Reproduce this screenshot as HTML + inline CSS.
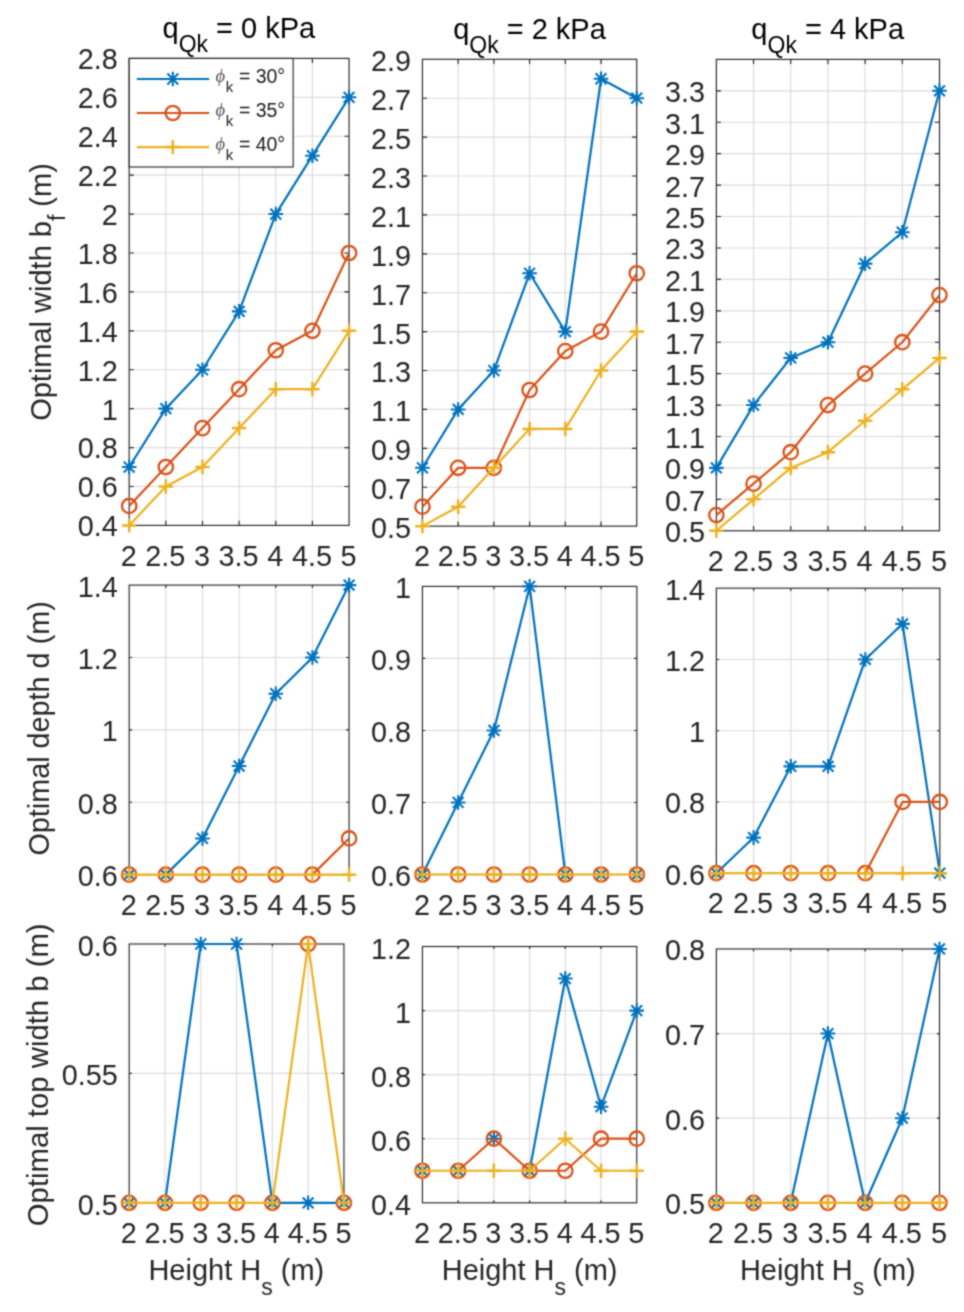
<!DOCTYPE html>
<html lang="en"><head><meta charset="utf-8"><title>Optimal dimensions</title>
<style>
html,body{margin:0;padding:0;background:#fff;}
body{width:964px;height:1312px;overflow:hidden;}
svg{display:block;font-family:"Liberation Sans",Arial,Helvetica,sans-serif;}
</style></head><body>
<svg width="964" height="1312" viewBox="0 0 964 1312">
<defs><filter id="soft" x="0" y="0" width="964" height="1312" filterUnits="userSpaceOnUse" color-interpolation-filters="sRGB"><feConvolveMatrix order="3" kernelMatrix="0.0400 0.1200 0.0400 0.1200 0.3600 0.1200 0.0400 0.1200 0.0400" divisor="1" edgeMode="duplicate" preserveAlpha="true"/></filter></defs>
<g filter="url(#soft)">
<rect width="964" height="1312" fill="#fff"/>
<g>
<path d="M165.82 58.40V525.40M202.47 58.40V525.40M239.12 58.40V525.40M275.77 58.40V525.40M312.42 58.40V525.40M129.17 486.48H349.07M129.17 447.57H349.07M129.17 408.65H349.07M129.17 369.73H349.07M129.17 330.82H349.07M129.17 291.90H349.07M129.17 252.98H349.07M129.17 214.07H349.07M129.17 175.15H349.07M129.17 136.23H349.07M129.17 97.32H349.07" stroke="#dbdbdb" stroke-width="1.15" fill="none"/>
<rect x="129.17" y="58.40" width="219.90" height="467.00" fill="none" stroke="#262626" stroke-width="1.15"/>
<path d="M165.82 525.40v-4.67M165.82 58.40v4.67M202.47 525.40v-4.67M202.47 58.40v4.67M239.12 525.40v-4.67M239.12 58.40v4.67M275.77 525.40v-4.67M275.77 58.40v4.67M312.42 525.40v-4.67M312.42 58.40v4.67M129.17 486.48h4.67M349.07 486.48h-4.67M129.17 447.57h4.67M349.07 447.57h-4.67M129.17 408.65h4.67M349.07 408.65h-4.67M129.17 369.73h4.67M349.07 369.73h-4.67M129.17 330.82h4.67M349.07 330.82h-4.67M129.17 291.90h4.67M349.07 291.90h-4.67M129.17 252.98h4.67M349.07 252.98h-4.67M129.17 214.07h4.67M349.07 214.07h-4.67M129.17 175.15h4.67M349.07 175.15h-4.67M129.17 136.23h4.67M349.07 136.23h-4.67M129.17 97.32h4.67M349.07 97.32h-4.67" stroke="#262626" stroke-width="1.15" fill="none"/>
<g font-size="28.8" fill="#262626">
<text transform="translate(128.67 565.70) scale(1 1.03)" text-anchor="middle">2</text>
<text transform="translate(165.32 565.70) scale(1 1.03)" text-anchor="middle">2.5</text>
<text transform="translate(201.97 565.70) scale(1 1.03)" text-anchor="middle">3</text>
<text transform="translate(238.62 565.70) scale(1 1.03)" text-anchor="middle">3.5</text>
<text transform="translate(275.27 565.70) scale(1 1.03)" text-anchor="middle">4</text>
<text transform="translate(311.92 565.70) scale(1 1.03)" text-anchor="middle">4.5</text>
<text transform="translate(348.57 565.70) scale(1 1.03)" text-anchor="middle">5</text>
<text transform="translate(117.77 536.30) scale(1 1.03)" text-anchor="end">0.4</text>
<text transform="translate(117.77 497.38) scale(1 1.03)" text-anchor="end">0.6</text>
<text transform="translate(117.77 458.47) scale(1 1.03)" text-anchor="end">0.8</text>
<text transform="translate(117.77 419.55) scale(1 1.03)" text-anchor="end">1</text>
<text transform="translate(117.77 380.63) scale(1 1.03)" text-anchor="end">1.2</text>
<text transform="translate(117.77 341.72) scale(1 1.03)" text-anchor="end">1.4</text>
<text transform="translate(117.77 302.80) scale(1 1.03)" text-anchor="end">1.6</text>
<text transform="translate(117.77 263.88) scale(1 1.03)" text-anchor="end">1.8</text>
<text transform="translate(117.77 224.97) scale(1 1.03)" text-anchor="end">2</text>
<text transform="translate(117.77 186.05) scale(1 1.03)" text-anchor="end">2.2</text>
<text transform="translate(117.77 147.13) scale(1 1.03)" text-anchor="end">2.4</text>
<text transform="translate(117.77 108.22) scale(1 1.03)" text-anchor="end">2.6</text>
<text transform="translate(117.77 69.30) scale(1 1.03)" text-anchor="end">2.8</text>
</g>
<path d="M129.17 467.02L165.82 408.65L202.47 369.73L239.12 311.36L275.77 214.07L312.42 155.69L349.07 97.32" fill="none" stroke="#0072BD" stroke-width="2.2" stroke-linejoin="round" stroke-linecap="butt"/>
<path d="M121.87 467.02H136.47M129.17 459.72V474.32M123.77 461.62L134.57 472.42M123.77 472.42L134.57 461.62" stroke="#0072BD" stroke-width="2.1" fill="none"/>
<path d="M158.52 408.65H173.12M165.82 401.35V415.95M160.42 403.25L171.22 414.05M160.42 414.05L171.22 403.25" stroke="#0072BD" stroke-width="2.1" fill="none"/>
<path d="M195.17 369.73H209.77M202.47 362.43V377.03M197.07 364.33L207.87 375.13M197.07 375.13L207.87 364.33" stroke="#0072BD" stroke-width="2.1" fill="none"/>
<path d="M231.82 311.36H246.42M239.12 304.06V318.66M233.72 305.96L244.52 316.76M233.72 316.76L244.52 305.96" stroke="#0072BD" stroke-width="2.1" fill="none"/>
<path d="M268.47 214.07H283.07M275.77 206.77V221.37M270.37 208.67L281.17 219.47M270.37 219.47L281.17 208.67" stroke="#0072BD" stroke-width="2.1" fill="none"/>
<path d="M305.12 155.69H319.72M312.42 148.39V162.99M307.02 150.29L317.82 161.09M307.02 161.09L317.82 150.29" stroke="#0072BD" stroke-width="2.1" fill="none"/>
<path d="M341.77 97.32H356.37M349.07 90.02V104.62M343.67 91.92L354.47 102.72M343.67 102.72L354.47 91.92" stroke="#0072BD" stroke-width="2.1" fill="none"/>
<path d="M129.17 505.94L165.82 467.02L202.47 428.11L239.12 389.19L275.77 350.27L312.42 330.82L349.07 252.98" fill="none" stroke="#D95319" stroke-width="2.2" stroke-linejoin="round" stroke-linecap="butt"/>
<circle cx="129.17" cy="505.94" r="7.2" stroke="#D95319" stroke-width="2.3" fill="none"/>
<circle cx="165.82" cy="467.02" r="7.2" stroke="#D95319" stroke-width="2.3" fill="none"/>
<circle cx="202.47" cy="428.11" r="7.2" stroke="#D95319" stroke-width="2.3" fill="none"/>
<circle cx="239.12" cy="389.19" r="7.2" stroke="#D95319" stroke-width="2.3" fill="none"/>
<circle cx="275.77" cy="350.27" r="7.2" stroke="#D95319" stroke-width="2.3" fill="none"/>
<circle cx="312.42" cy="330.82" r="7.2" stroke="#D95319" stroke-width="2.3" fill="none"/>
<circle cx="349.07" cy="252.98" r="7.2" stroke="#D95319" stroke-width="2.3" fill="none"/>
<path d="M129.17 525.40L165.82 486.48L202.47 467.02L239.12 428.11L275.77 389.19L312.42 389.19L349.07 330.82" fill="none" stroke="#EDB120" stroke-width="2.2" stroke-linejoin="round" stroke-linecap="butt"/>
<path d="M121.97 525.40H136.37M129.17 518.20V532.60" stroke="#EDB120" stroke-width="2.5" fill="none"/>
<path d="M158.62 486.48H173.02M165.82 479.28V493.68" stroke="#EDB120" stroke-width="2.5" fill="none"/>
<path d="M195.27 467.02H209.67M202.47 459.82V474.22" stroke="#EDB120" stroke-width="2.5" fill="none"/>
<path d="M231.92 428.11H246.32M239.12 420.91V435.31" stroke="#EDB120" stroke-width="2.5" fill="none"/>
<path d="M268.57 389.19H282.97M275.77 381.99V396.39" stroke="#EDB120" stroke-width="2.5" fill="none"/>
<path d="M305.22 389.19H319.62M312.42 381.99V396.39" stroke="#EDB120" stroke-width="2.5" fill="none"/>
<path d="M341.87 330.82H356.27M349.07 323.62V338.02" stroke="#EDB120" stroke-width="2.5" fill="none"/>
</g>
<g>
<path d="M458.15 59.30V526.14M493.87 59.30V526.14M529.59 59.30V526.14M565.30 59.30V526.14M601.02 59.30V526.14M422.43 487.24H636.74M422.43 448.33H636.74M422.43 409.43H636.74M422.43 370.53H636.74M422.43 331.62H636.74M422.43 292.72H636.74M422.43 253.82H636.74M422.43 214.91H636.74M422.43 176.01H636.74M422.43 137.11H636.74M422.43 98.20H636.74" stroke="#dbdbdb" stroke-width="1.15" fill="none"/>
<rect x="422.43" y="59.30" width="214.31" height="466.84" fill="none" stroke="#262626" stroke-width="1.15"/>
<path d="M458.15 526.14v-4.67M458.15 59.30v4.67M493.87 526.14v-4.67M493.87 59.30v4.67M529.59 526.14v-4.67M529.59 59.30v4.67M565.30 526.14v-4.67M565.30 59.30v4.67M601.02 526.14v-4.67M601.02 59.30v4.67M422.43 487.24h4.67M636.74 487.24h-4.67M422.43 448.33h4.67M636.74 448.33h-4.67M422.43 409.43h4.67M636.74 409.43h-4.67M422.43 370.53h4.67M636.74 370.53h-4.67M422.43 331.62h4.67M636.74 331.62h-4.67M422.43 292.72h4.67M636.74 292.72h-4.67M422.43 253.82h4.67M636.74 253.82h-4.67M422.43 214.91h4.67M636.74 214.91h-4.67M422.43 176.01h4.67M636.74 176.01h-4.67M422.43 137.11h4.67M636.74 137.11h-4.67M422.43 98.20h4.67M636.74 98.20h-4.67" stroke="#262626" stroke-width="1.15" fill="none"/>
<g font-size="28.8" fill="#262626">
<text transform="translate(421.93 565.70) scale(1 1.03)" text-anchor="middle">2</text>
<text transform="translate(457.65 565.70) scale(1 1.03)" text-anchor="middle">2.5</text>
<text transform="translate(493.37 565.70) scale(1 1.03)" text-anchor="middle">3</text>
<text transform="translate(529.09 565.70) scale(1 1.03)" text-anchor="middle">3.5</text>
<text transform="translate(564.80 565.70) scale(1 1.03)" text-anchor="middle">4</text>
<text transform="translate(600.52 565.70) scale(1 1.03)" text-anchor="middle">4.5</text>
<text transform="translate(636.24 565.70) scale(1 1.03)" text-anchor="middle">5</text>
<text transform="translate(411.03 538.04) scale(1 1.03)" text-anchor="end">0.5</text>
<text transform="translate(411.03 499.14) scale(1 1.03)" text-anchor="end">0.7</text>
<text transform="translate(411.03 460.23) scale(1 1.03)" text-anchor="end">0.9</text>
<text transform="translate(411.03 421.33) scale(1 1.03)" text-anchor="end">1.1</text>
<text transform="translate(411.03 382.43) scale(1 1.03)" text-anchor="end">1.3</text>
<text transform="translate(411.03 343.52) scale(1 1.03)" text-anchor="end">1.5</text>
<text transform="translate(411.03 304.62) scale(1 1.03)" text-anchor="end">1.7</text>
<text transform="translate(411.03 265.72) scale(1 1.03)" text-anchor="end">1.9</text>
<text transform="translate(411.03 226.81) scale(1 1.03)" text-anchor="end">2.1</text>
<text transform="translate(411.03 187.91) scale(1 1.03)" text-anchor="end">2.3</text>
<text transform="translate(411.03 149.01) scale(1 1.03)" text-anchor="end">2.5</text>
<text transform="translate(411.03 110.10) scale(1 1.03)" text-anchor="end">2.7</text>
<text transform="translate(411.03 71.20) scale(1 1.03)" text-anchor="end">2.9</text>
</g>
<path d="M422.43 467.78L458.15 409.43L493.87 370.53L529.59 273.27L565.30 331.62L601.02 78.75L636.74 98.20" fill="none" stroke="#0072BD" stroke-width="2.2" stroke-linejoin="round" stroke-linecap="butt"/>
<path d="M415.13 467.78H429.73M422.43 460.48V475.08M417.03 462.38L427.83 473.18M417.03 473.18L427.83 462.38" stroke="#0072BD" stroke-width="2.1" fill="none"/>
<path d="M450.85 409.43H465.45M458.15 402.13V416.73M452.75 404.03L463.55 414.83M452.75 414.83L463.55 404.03" stroke="#0072BD" stroke-width="2.1" fill="none"/>
<path d="M486.57 370.53H501.17M493.87 363.23V377.83M488.47 365.13L499.27 375.93M488.47 375.93L499.27 365.13" stroke="#0072BD" stroke-width="2.1" fill="none"/>
<path d="M522.29 273.27H536.88M529.59 265.97V280.57M524.19 267.87L534.99 278.67M524.19 278.67L534.99 267.87" stroke="#0072BD" stroke-width="2.1" fill="none"/>
<path d="M558.00 331.62H572.60M565.30 324.32V338.92M559.90 326.22L570.70 337.02M559.90 337.02L570.70 326.22" stroke="#0072BD" stroke-width="2.1" fill="none"/>
<path d="M593.72 78.75H608.32M601.02 71.45V86.05M595.62 73.35L606.42 84.15M595.62 84.15L606.42 73.35" stroke="#0072BD" stroke-width="2.1" fill="none"/>
<path d="M629.44 98.20H644.04M636.74 90.90V105.50M631.34 92.80L642.14 103.60M631.34 103.60L642.14 92.80" stroke="#0072BD" stroke-width="2.1" fill="none"/>
<path d="M422.43 506.69L458.15 467.78L493.87 467.78L529.59 389.98L565.30 351.07L601.02 331.62L636.74 273.27" fill="none" stroke="#D95319" stroke-width="2.2" stroke-linejoin="round" stroke-linecap="butt"/>
<circle cx="422.43" cy="506.69" r="7.2" stroke="#D95319" stroke-width="2.3" fill="none"/>
<circle cx="458.15" cy="467.78" r="7.2" stroke="#D95319" stroke-width="2.3" fill="none"/>
<circle cx="493.87" cy="467.78" r="7.2" stroke="#D95319" stroke-width="2.3" fill="none"/>
<circle cx="529.59" cy="389.98" r="7.2" stroke="#D95319" stroke-width="2.3" fill="none"/>
<circle cx="565.30" cy="351.07" r="7.2" stroke="#D95319" stroke-width="2.3" fill="none"/>
<circle cx="601.02" cy="331.62" r="7.2" stroke="#D95319" stroke-width="2.3" fill="none"/>
<circle cx="636.74" cy="273.27" r="7.2" stroke="#D95319" stroke-width="2.3" fill="none"/>
<path d="M422.43 526.14L458.15 506.69L493.87 467.78L529.59 428.88L565.30 428.88L601.02 370.53L636.74 331.62" fill="none" stroke="#EDB120" stroke-width="2.2" stroke-linejoin="round" stroke-linecap="butt"/>
<path d="M415.23 526.14H429.63M422.43 518.94V533.34" stroke="#EDB120" stroke-width="2.5" fill="none"/>
<path d="M450.95 506.69H465.35M458.15 499.49V513.89" stroke="#EDB120" stroke-width="2.5" fill="none"/>
<path d="M486.67 467.78H501.07M493.87 460.58V474.98" stroke="#EDB120" stroke-width="2.5" fill="none"/>
<path d="M522.38 428.88H536.79M529.59 421.68V436.08" stroke="#EDB120" stroke-width="2.5" fill="none"/>
<path d="M558.10 428.88H572.50M565.30 421.68V436.08" stroke="#EDB120" stroke-width="2.5" fill="none"/>
<path d="M593.82 370.53H608.22M601.02 363.33V377.73" stroke="#EDB120" stroke-width="2.5" fill="none"/>
<path d="M629.54 331.62H643.94M636.74 324.42V338.82" stroke="#EDB120" stroke-width="2.5" fill="none"/>
</g>
<g>
<path d="M753.54 59.40V530.77M790.73 59.40V530.77M827.92 59.40V530.77M865.12 59.40V530.77M902.31 59.40V530.77M716.35 499.35H939.50M716.35 467.92H939.50M716.35 436.50H939.50M716.35 405.07H939.50M716.35 373.65H939.50M716.35 342.22H939.50M716.35 310.80H939.50M716.35 279.37H939.50M716.35 247.95H939.50M716.35 216.52H939.50M716.35 185.10H939.50M716.35 153.67H939.50M716.35 122.25H939.50M716.35 90.82H939.50" stroke="#dbdbdb" stroke-width="1.15" fill="none"/>
<rect x="716.35" y="59.40" width="223.15" height="471.37" fill="none" stroke="#262626" stroke-width="1.15"/>
<path d="M753.54 530.77v-4.71M753.54 59.40v4.71M790.73 530.77v-4.71M790.73 59.40v4.71M827.92 530.77v-4.71M827.92 59.40v4.71M865.12 530.77v-4.71M865.12 59.40v4.71M902.31 530.77v-4.71M902.31 59.40v4.71M716.35 499.35h4.71M939.50 499.35h-4.71M716.35 467.92h4.71M939.50 467.92h-4.71M716.35 436.50h4.71M939.50 436.50h-4.71M716.35 405.07h4.71M939.50 405.07h-4.71M716.35 373.65h4.71M939.50 373.65h-4.71M716.35 342.22h4.71M939.50 342.22h-4.71M716.35 310.80h4.71M939.50 310.80h-4.71M716.35 279.37h4.71M939.50 279.37h-4.71M716.35 247.95h4.71M939.50 247.95h-4.71M716.35 216.52h4.71M939.50 216.52h-4.71M716.35 185.10h4.71M939.50 185.10h-4.71M716.35 153.67h4.71M939.50 153.67h-4.71M716.35 122.25h4.71M939.50 122.25h-4.71M716.35 90.82h4.71M939.50 90.82h-4.71" stroke="#262626" stroke-width="1.15" fill="none"/>
<g font-size="28.8" fill="#262626">
<text transform="translate(715.85 570.90) scale(1 1.03)" text-anchor="middle">2</text>
<text transform="translate(753.04 570.90) scale(1 1.03)" text-anchor="middle">2.5</text>
<text transform="translate(790.23 570.90) scale(1 1.03)" text-anchor="middle">3</text>
<text transform="translate(827.42 570.90) scale(1 1.03)" text-anchor="middle">3.5</text>
<text transform="translate(864.62 570.90) scale(1 1.03)" text-anchor="middle">4</text>
<text transform="translate(901.81 570.90) scale(1 1.03)" text-anchor="middle">4.5</text>
<text transform="translate(939.00 570.90) scale(1 1.03)" text-anchor="middle">5</text>
<text transform="translate(704.95 542.17) scale(1 1.03)" text-anchor="end">0.5</text>
<text transform="translate(704.95 510.75) scale(1 1.03)" text-anchor="end">0.7</text>
<text transform="translate(704.95 479.32) scale(1 1.03)" text-anchor="end">0.9</text>
<text transform="translate(704.95 447.90) scale(1 1.03)" text-anchor="end">1.1</text>
<text transform="translate(704.95 416.47) scale(1 1.03)" text-anchor="end">1.3</text>
<text transform="translate(704.95 385.05) scale(1 1.03)" text-anchor="end">1.5</text>
<text transform="translate(704.95 353.62) scale(1 1.03)" text-anchor="end">1.7</text>
<text transform="translate(704.95 322.20) scale(1 1.03)" text-anchor="end">1.9</text>
<text transform="translate(704.95 290.77) scale(1 1.03)" text-anchor="end">2.1</text>
<text transform="translate(704.95 259.35) scale(1 1.03)" text-anchor="end">2.3</text>
<text transform="translate(704.95 227.92) scale(1 1.03)" text-anchor="end">2.5</text>
<text transform="translate(704.95 196.50) scale(1 1.03)" text-anchor="end">2.7</text>
<text transform="translate(704.95 165.07) scale(1 1.03)" text-anchor="end">2.9</text>
<text transform="translate(704.95 133.65) scale(1 1.03)" text-anchor="end">3.1</text>
<text transform="translate(704.95 102.22) scale(1 1.03)" text-anchor="end">3.3</text>
</g>
<path d="M716.35 467.92L753.54 405.07L790.73 357.93L827.92 342.22L865.12 263.66L902.31 232.24L939.50 90.82" fill="none" stroke="#0072BD" stroke-width="2.2" stroke-linejoin="round" stroke-linecap="butt"/>
<path d="M709.05 467.92H723.65M716.35 460.62V475.22M710.95 462.52L721.75 473.32M710.95 473.32L721.75 462.52" stroke="#0072BD" stroke-width="2.1" fill="none"/>
<path d="M746.24 405.07H760.84M753.54 397.77V412.37M748.14 399.67L758.94 410.47M748.14 410.47L758.94 399.67" stroke="#0072BD" stroke-width="2.1" fill="none"/>
<path d="M783.43 357.93H798.03M790.73 350.63V365.23M785.33 352.53L796.13 363.33M785.33 363.33L796.13 352.53" stroke="#0072BD" stroke-width="2.1" fill="none"/>
<path d="M820.62 342.22H835.22M827.92 334.92V349.52M822.52 336.82L833.32 347.62M822.52 347.62L833.32 336.82" stroke="#0072BD" stroke-width="2.1" fill="none"/>
<path d="M857.82 263.66H872.42M865.12 256.36V270.96M859.72 258.26L870.52 269.06M859.72 269.06L870.52 258.26" stroke="#0072BD" stroke-width="2.1" fill="none"/>
<path d="M895.01 232.24H909.61M902.31 224.94V239.54M896.91 226.84L907.71 237.64M896.91 237.64L907.71 226.84" stroke="#0072BD" stroke-width="2.1" fill="none"/>
<path d="M932.20 90.82H946.80M939.50 83.52V98.12M934.10 85.42L944.90 96.22M934.10 96.22L944.90 85.42" stroke="#0072BD" stroke-width="2.1" fill="none"/>
<path d="M716.35 515.06L753.54 483.63L790.73 452.21L827.92 405.07L865.12 373.65L902.31 342.22L939.50 295.08" fill="none" stroke="#D95319" stroke-width="2.2" stroke-linejoin="round" stroke-linecap="butt"/>
<circle cx="716.35" cy="515.06" r="7.2" stroke="#D95319" stroke-width="2.3" fill="none"/>
<circle cx="753.54" cy="483.63" r="7.2" stroke="#D95319" stroke-width="2.3" fill="none"/>
<circle cx="790.73" cy="452.21" r="7.2" stroke="#D95319" stroke-width="2.3" fill="none"/>
<circle cx="827.92" cy="405.07" r="7.2" stroke="#D95319" stroke-width="2.3" fill="none"/>
<circle cx="865.12" cy="373.65" r="7.2" stroke="#D95319" stroke-width="2.3" fill="none"/>
<circle cx="902.31" cy="342.22" r="7.2" stroke="#D95319" stroke-width="2.3" fill="none"/>
<circle cx="939.50" cy="295.08" r="7.2" stroke="#D95319" stroke-width="2.3" fill="none"/>
<path d="M716.35 530.77L753.54 499.35L790.73 467.92L827.92 452.21L865.12 420.78L902.31 389.36L939.50 357.93" fill="none" stroke="#EDB120" stroke-width="2.2" stroke-linejoin="round" stroke-linecap="butt"/>
<path d="M709.15 530.77H723.55M716.35 523.57V537.97" stroke="#EDB120" stroke-width="2.5" fill="none"/>
<path d="M746.34 499.35H760.74M753.54 492.15V506.55" stroke="#EDB120" stroke-width="2.5" fill="none"/>
<path d="M783.53 467.92H797.93M790.73 460.72V475.12" stroke="#EDB120" stroke-width="2.5" fill="none"/>
<path d="M820.72 452.21H835.12M827.92 445.01V459.41" stroke="#EDB120" stroke-width="2.5" fill="none"/>
<path d="M857.92 420.78H872.32M865.12 413.58V427.98" stroke="#EDB120" stroke-width="2.5" fill="none"/>
<path d="M895.11 389.36H909.51M902.31 382.16V396.56" stroke="#EDB120" stroke-width="2.5" fill="none"/>
<path d="M932.30 357.93H946.70M939.50 350.73V365.13" stroke="#EDB120" stroke-width="2.5" fill="none"/>
</g>
<g>
<path d="M165.82 585.10V874.65M202.47 585.10V874.65M239.12 585.10V874.65M275.77 585.10V874.65M312.42 585.10V874.65M129.17 802.26H349.07M129.17 729.88H349.07M129.17 657.49H349.07" stroke="#dbdbdb" stroke-width="1.15" fill="none"/>
<rect x="129.17" y="585.10" width="219.90" height="289.55" fill="none" stroke="#262626" stroke-width="1.15"/>
<path d="M165.82 874.65v-2.9M165.82 585.10v2.9M202.47 874.65v-2.9M202.47 585.10v2.9M239.12 874.65v-2.9M239.12 585.10v2.9M275.77 874.65v-2.9M275.77 585.10v2.9M312.42 874.65v-2.9M312.42 585.10v2.9M129.17 802.26h2.9M349.07 802.26h-2.9M129.17 729.88h2.9M349.07 729.88h-2.9M129.17 657.49h2.9M349.07 657.49h-2.9" stroke="#262626" stroke-width="1.15" fill="none"/>
<g font-size="28.8" fill="#262626">
<text transform="translate(128.67 914.80) scale(1 1.03)" text-anchor="middle">2</text>
<text transform="translate(165.32 914.80) scale(1 1.03)" text-anchor="middle">2.5</text>
<text transform="translate(201.97 914.80) scale(1 1.03)" text-anchor="middle">3</text>
<text transform="translate(238.62 914.80) scale(1 1.03)" text-anchor="middle">3.5</text>
<text transform="translate(275.27 914.80) scale(1 1.03)" text-anchor="middle">4</text>
<text transform="translate(311.92 914.80) scale(1 1.03)" text-anchor="middle">4.5</text>
<text transform="translate(348.57 914.80) scale(1 1.03)" text-anchor="middle">5</text>
<text transform="translate(117.77 886.25) scale(1 1.03)" text-anchor="end">0.6</text>
<text transform="translate(117.77 813.86) scale(1 1.03)" text-anchor="end">0.8</text>
<text transform="translate(117.77 741.48) scale(1 1.03)" text-anchor="end">1</text>
<text transform="translate(117.77 669.09) scale(1 1.03)" text-anchor="end">1.2</text>
<text transform="translate(117.77 596.70) scale(1 1.03)" text-anchor="end">1.4</text>
</g>
<path d="M165.82 874.65L202.47 838.46L239.12 766.07L275.77 693.68L312.42 657.49L349.07 585.10" fill="none" stroke="#0072BD" stroke-width="2.2" stroke-linejoin="round" stroke-linecap="butt"/>
<path d="M121.87 874.65H136.47M129.17 867.35V881.95M123.77 869.25L134.57 880.05M123.77 880.05L134.57 869.25" stroke="#0072BD" stroke-width="2.1" fill="none"/>
<path d="M158.52 874.65H173.12M165.82 867.35V881.95M160.42 869.25L171.22 880.05M160.42 880.05L171.22 869.25" stroke="#0072BD" stroke-width="2.1" fill="none"/>
<path d="M195.17 838.46H209.77M202.47 831.16V845.76M197.07 833.06L207.87 843.86M197.07 843.86L207.87 833.06" stroke="#0072BD" stroke-width="2.1" fill="none"/>
<path d="M231.82 766.07H246.42M239.12 758.77V773.37M233.72 760.67L244.52 771.47M233.72 771.47L244.52 760.67" stroke="#0072BD" stroke-width="2.1" fill="none"/>
<path d="M268.47 693.68H283.07M275.77 686.38V700.98M270.37 688.28L281.17 699.08M270.37 699.08L281.17 688.28" stroke="#0072BD" stroke-width="2.1" fill="none"/>
<path d="M305.12 657.49H319.72M312.42 650.19V664.79M307.02 652.09L317.82 662.89M307.02 662.89L317.82 652.09" stroke="#0072BD" stroke-width="2.1" fill="none"/>
<path d="M341.77 585.10H356.37M349.07 577.80V592.40M343.67 579.70L354.47 590.50M343.67 590.50L354.47 579.70" stroke="#0072BD" stroke-width="2.1" fill="none"/>
<path d="M312.42 874.65L349.07 838.46" fill="none" stroke="#D95319" stroke-width="2.2" stroke-linejoin="round" stroke-linecap="butt"/>
<circle cx="129.17" cy="874.65" r="7.2" stroke="#D95319" stroke-width="2.3" fill="none"/>
<circle cx="165.82" cy="874.65" r="7.2" stroke="#D95319" stroke-width="2.3" fill="none"/>
<circle cx="202.47" cy="874.65" r="7.2" stroke="#D95319" stroke-width="2.3" fill="none"/>
<circle cx="239.12" cy="874.65" r="7.2" stroke="#D95319" stroke-width="2.3" fill="none"/>
<circle cx="275.77" cy="874.65" r="7.2" stroke="#D95319" stroke-width="2.3" fill="none"/>
<circle cx="312.42" cy="874.65" r="7.2" stroke="#D95319" stroke-width="2.3" fill="none"/>
<circle cx="349.07" cy="838.46" r="7.2" stroke="#D95319" stroke-width="2.3" fill="none"/>
<path d="M129.17 874.65L165.82 874.65L202.47 874.65L239.12 874.65L275.77 874.65L312.42 874.65L349.07 874.65" fill="none" stroke="#EDB120" stroke-width="2.2" stroke-linejoin="round" stroke-linecap="butt"/>
<path d="M121.97 874.65H136.37M129.17 867.45V881.85" stroke="#EDB120" stroke-width="2.5" fill="none"/>
<path d="M158.62 874.65H173.02M165.82 867.45V881.85" stroke="#EDB120" stroke-width="2.5" fill="none"/>
<path d="M195.27 874.65H209.67M202.47 867.45V881.85" stroke="#EDB120" stroke-width="2.5" fill="none"/>
<path d="M231.92 874.65H246.32M239.12 867.45V881.85" stroke="#EDB120" stroke-width="2.5" fill="none"/>
<path d="M268.57 874.65H282.97M275.77 867.45V881.85" stroke="#EDB120" stroke-width="2.5" fill="none"/>
<path d="M305.22 874.65H319.62M312.42 867.45V881.85" stroke="#EDB120" stroke-width="2.5" fill="none"/>
<path d="M341.87 874.65H356.27M349.07 867.45V881.85" stroke="#EDB120" stroke-width="2.5" fill="none"/>
</g>
<g>
<path d="M458.17 586.40V874.50M493.91 586.40V874.50M529.65 586.40V874.50M565.39 586.40V874.50M601.13 586.40V874.50M422.43 802.48H636.87M422.43 730.45H636.87M422.43 658.42H636.87" stroke="#dbdbdb" stroke-width="1.15" fill="none"/>
<rect x="422.43" y="586.40" width="214.44" height="288.10" fill="none" stroke="#262626" stroke-width="1.15"/>
<path d="M458.17 874.50v-2.88M458.17 586.40v2.88M493.91 874.50v-2.88M493.91 586.40v2.88M529.65 874.50v-2.88M529.65 586.40v2.88M565.39 874.50v-2.88M565.39 586.40v2.88M601.13 874.50v-2.88M601.13 586.40v2.88M422.43 802.48h2.88M636.87 802.48h-2.88M422.43 730.45h2.88M636.87 730.45h-2.88M422.43 658.42h2.88M636.87 658.42h-2.88" stroke="#262626" stroke-width="1.15" fill="none"/>
<g font-size="28.8" fill="#262626">
<text transform="translate(421.93 914.80) scale(1 1.03)" text-anchor="middle">2</text>
<text transform="translate(457.67 914.80) scale(1 1.03)" text-anchor="middle">2.5</text>
<text transform="translate(493.41 914.80) scale(1 1.03)" text-anchor="middle">3</text>
<text transform="translate(529.15 914.80) scale(1 1.03)" text-anchor="middle">3.5</text>
<text transform="translate(564.89 914.80) scale(1 1.03)" text-anchor="middle">4</text>
<text transform="translate(600.63 914.80) scale(1 1.03)" text-anchor="middle">4.5</text>
<text transform="translate(636.37 914.80) scale(1 1.03)" text-anchor="middle">5</text>
<text transform="translate(411.03 886.00) scale(1 1.03)" text-anchor="end">0.6</text>
<text transform="translate(411.03 813.98) scale(1 1.03)" text-anchor="end">0.7</text>
<text transform="translate(411.03 741.95) scale(1 1.03)" text-anchor="end">0.8</text>
<text transform="translate(411.03 669.92) scale(1 1.03)" text-anchor="end">0.9</text>
<text transform="translate(411.03 597.90) scale(1 1.03)" text-anchor="end">1</text>
</g>
<path d="M422.43 874.50L458.17 802.48L493.91 730.45L529.65 586.40L565.39 874.50" fill="none" stroke="#0072BD" stroke-width="2.2" stroke-linejoin="round" stroke-linecap="butt"/>
<path d="M415.13 874.50H429.73M422.43 867.20V881.80M417.03 869.10L427.83 879.90M417.03 879.90L427.83 869.10" stroke="#0072BD" stroke-width="2.1" fill="none"/>
<path d="M450.87 802.48H465.47M458.17 795.18V809.77M452.77 797.08L463.57 807.88M452.77 807.88L463.57 797.08" stroke="#0072BD" stroke-width="2.1" fill="none"/>
<path d="M486.61 730.45H501.21M493.91 723.15V737.75M488.51 725.05L499.31 735.85M488.51 735.85L499.31 725.05" stroke="#0072BD" stroke-width="2.1" fill="none"/>
<path d="M522.35 586.40H536.95M529.65 579.10V593.70M524.25 581.00L535.05 591.80M524.25 591.80L535.05 581.00" stroke="#0072BD" stroke-width="2.1" fill="none"/>
<path d="M558.09 874.50H572.69M565.39 867.20V881.80M559.99 869.10L570.79 879.90M559.99 879.90L570.79 869.10" stroke="#0072BD" stroke-width="2.1" fill="none"/>
<path d="M593.83 874.50H608.43M601.13 867.20V881.80M595.73 869.10L606.53 879.90M595.73 879.90L606.53 869.10" stroke="#0072BD" stroke-width="2.1" fill="none"/>
<path d="M629.57 874.50H644.17M636.87 867.20V881.80M631.47 869.10L642.27 879.90M631.47 879.90L642.27 869.10" stroke="#0072BD" stroke-width="2.1" fill="none"/>
<circle cx="422.43" cy="874.50" r="7.2" stroke="#D95319" stroke-width="2.3" fill="none"/>
<circle cx="458.17" cy="874.50" r="7.2" stroke="#D95319" stroke-width="2.3" fill="none"/>
<circle cx="493.91" cy="874.50" r="7.2" stroke="#D95319" stroke-width="2.3" fill="none"/>
<circle cx="529.65" cy="874.50" r="7.2" stroke="#D95319" stroke-width="2.3" fill="none"/>
<circle cx="565.39" cy="874.50" r="7.2" stroke="#D95319" stroke-width="2.3" fill="none"/>
<circle cx="601.13" cy="874.50" r="7.2" stroke="#D95319" stroke-width="2.3" fill="none"/>
<circle cx="636.87" cy="874.50" r="7.2" stroke="#D95319" stroke-width="2.3" fill="none"/>
<path d="M422.43 874.50L458.17 874.50L493.91 874.50L529.65 874.50L565.39 874.50L601.13 874.50L636.87 874.50" fill="none" stroke="#EDB120" stroke-width="2.2" stroke-linejoin="round" stroke-linecap="butt"/>
<path d="M415.23 874.50H429.63M422.43 867.30V881.70" stroke="#EDB120" stroke-width="2.5" fill="none"/>
<path d="M450.97 874.50H465.37M458.17 867.30V881.70" stroke="#EDB120" stroke-width="2.5" fill="none"/>
<path d="M486.71 874.50H501.11M493.91 867.30V881.70" stroke="#EDB120" stroke-width="2.5" fill="none"/>
<path d="M522.45 874.50H536.85M529.65 867.30V881.70" stroke="#EDB120" stroke-width="2.5" fill="none"/>
<path d="M558.19 874.50H572.59M565.39 867.30V881.70" stroke="#EDB120" stroke-width="2.5" fill="none"/>
<path d="M593.93 874.50H608.33M601.13 867.30V881.70" stroke="#EDB120" stroke-width="2.5" fill="none"/>
<path d="M629.67 874.50H644.07M636.87 867.30V881.70" stroke="#EDB120" stroke-width="2.5" fill="none"/>
</g>
<g>
<path d="M753.59 588.20V873.20M790.83 588.20V873.20M828.08 588.20V873.20M865.32 588.20V873.20M902.56 588.20V873.20M716.35 801.95H939.80M716.35 730.70H939.80M716.35 659.45H939.80" stroke="#dbdbdb" stroke-width="1.15" fill="none"/>
<rect x="716.35" y="588.20" width="223.45" height="285.00" fill="none" stroke="#262626" stroke-width="1.15"/>
<path d="M753.59 873.20v-2.85M753.59 588.20v2.85M790.83 873.20v-2.85M790.83 588.20v2.85M828.08 873.20v-2.85M828.08 588.20v2.85M865.32 873.20v-2.85M865.32 588.20v2.85M902.56 873.20v-2.85M902.56 588.20v2.85M716.35 801.95h2.85M939.80 801.95h-2.85M716.35 730.70h2.85M939.80 730.70h-2.85M716.35 659.45h2.85M939.80 659.45h-2.85" stroke="#262626" stroke-width="1.15" fill="none"/>
<g font-size="28.8" fill="#262626">
<text transform="translate(715.85 912.90) scale(1 1.03)" text-anchor="middle">2</text>
<text transform="translate(753.09 912.90) scale(1 1.03)" text-anchor="middle">2.5</text>
<text transform="translate(790.33 912.90) scale(1 1.03)" text-anchor="middle">3</text>
<text transform="translate(827.58 912.90) scale(1 1.03)" text-anchor="middle">3.5</text>
<text transform="translate(864.82 912.90) scale(1 1.03)" text-anchor="middle">4</text>
<text transform="translate(902.06 912.90) scale(1 1.03)" text-anchor="middle">4.5</text>
<text transform="translate(939.30 912.90) scale(1 1.03)" text-anchor="middle">5</text>
<text transform="translate(704.95 884.70) scale(1 1.03)" text-anchor="end">0.6</text>
<text transform="translate(704.95 813.45) scale(1 1.03)" text-anchor="end">0.8</text>
<text transform="translate(704.95 742.20) scale(1 1.03)" text-anchor="end">1</text>
<text transform="translate(704.95 670.95) scale(1 1.03)" text-anchor="end">1.2</text>
<text transform="translate(704.95 599.70) scale(1 1.03)" text-anchor="end">1.4</text>
</g>
<path d="M716.35 873.20L753.59 837.58L790.83 766.33L828.08 766.33L865.32 659.45L902.56 623.83L939.80 873.20" fill="none" stroke="#0072BD" stroke-width="2.2" stroke-linejoin="round" stroke-linecap="butt"/>
<path d="M709.05 873.20H723.65M716.35 865.90V880.50M710.95 867.80L721.75 878.60M710.95 878.60L721.75 867.80" stroke="#0072BD" stroke-width="2.1" fill="none"/>
<path d="M746.29 837.58H760.89M753.59 830.28V844.88M748.19 832.18L758.99 842.98M748.19 842.98L758.99 832.18" stroke="#0072BD" stroke-width="2.1" fill="none"/>
<path d="M783.53 766.33H798.13M790.83 759.03V773.62M785.43 760.93L796.23 771.73M785.43 771.73L796.23 760.93" stroke="#0072BD" stroke-width="2.1" fill="none"/>
<path d="M820.78 766.33H835.38M828.08 759.03V773.62M822.68 760.93L833.48 771.73M822.68 771.73L833.48 760.93" stroke="#0072BD" stroke-width="2.1" fill="none"/>
<path d="M858.02 659.45H872.62M865.32 652.15V666.75M859.92 654.05L870.72 664.85M859.92 664.85L870.72 654.05" stroke="#0072BD" stroke-width="2.1" fill="none"/>
<path d="M895.26 623.83H909.86M902.56 616.53V631.12M897.16 618.43L907.96 629.23M897.16 629.23L907.96 618.43" stroke="#0072BD" stroke-width="2.1" fill="none"/>
<path d="M932.50 873.20H947.10M939.80 865.90V880.50M934.40 867.80L945.20 878.60M934.40 878.60L945.20 867.80" stroke="#0072BD" stroke-width="2.1" fill="none"/>
<path d="M865.32 873.20L902.56 801.95L939.80 801.95" fill="none" stroke="#D95319" stroke-width="2.2" stroke-linejoin="round" stroke-linecap="butt"/>
<circle cx="716.35" cy="873.20" r="7.2" stroke="#D95319" stroke-width="2.3" fill="none"/>
<circle cx="753.59" cy="873.20" r="7.2" stroke="#D95319" stroke-width="2.3" fill="none"/>
<circle cx="790.83" cy="873.20" r="7.2" stroke="#D95319" stroke-width="2.3" fill="none"/>
<circle cx="828.08" cy="873.20" r="7.2" stroke="#D95319" stroke-width="2.3" fill="none"/>
<circle cx="865.32" cy="873.20" r="7.2" stroke="#D95319" stroke-width="2.3" fill="none"/>
<circle cx="902.56" cy="801.95" r="7.2" stroke="#D95319" stroke-width="2.3" fill="none"/>
<circle cx="939.80" cy="801.95" r="7.2" stroke="#D95319" stroke-width="2.3" fill="none"/>
<path d="M716.35 873.20L753.59 873.20L790.83 873.20L828.08 873.20L865.32 873.20L902.56 873.20L939.80 873.20" fill="none" stroke="#EDB120" stroke-width="2.2" stroke-linejoin="round" stroke-linecap="butt"/>
<path d="M709.15 873.20H723.55M716.35 866.00V880.40" stroke="#EDB120" stroke-width="2.5" fill="none"/>
<path d="M746.39 873.20H760.79M753.59 866.00V880.40" stroke="#EDB120" stroke-width="2.5" fill="none"/>
<path d="M783.63 873.20H798.03M790.83 866.00V880.40" stroke="#EDB120" stroke-width="2.5" fill="none"/>
<path d="M820.88 873.20H835.28M828.08 866.00V880.40" stroke="#EDB120" stroke-width="2.5" fill="none"/>
<path d="M858.12 873.20H872.52M865.32 866.00V880.40" stroke="#EDB120" stroke-width="2.5" fill="none"/>
<path d="M895.36 873.20H909.76M902.56 866.00V880.40" stroke="#EDB120" stroke-width="2.5" fill="none"/>
<path d="M932.60 873.20H947.00M939.80 866.00V880.40" stroke="#EDB120" stroke-width="2.5" fill="none"/>
</g>
<g>
<path d="M164.96 944.00V1202.80M200.76 944.00V1202.80M236.56 944.00V1202.80M272.35 944.00V1202.80M308.14 944.00V1202.80M129.17 1073.40H343.94" stroke="#dbdbdb" stroke-width="1.15" fill="none"/>
<rect x="129.17" y="944.00" width="214.77" height="258.80" fill="none" stroke="#262626" stroke-width="1.15"/>
<path d="M164.96 1202.80v-2.59M164.96 944.00v2.59M200.76 1202.80v-2.59M200.76 944.00v2.59M236.56 1202.80v-2.59M236.56 944.00v2.59M272.35 1202.80v-2.59M272.35 944.00v2.59M308.14 1202.80v-2.59M308.14 944.00v2.59M129.17 1073.40h2.59M343.94 1073.40h-2.59" stroke="#262626" stroke-width="1.15" fill="none"/>
<g font-size="28.8" fill="#262626">
<text transform="translate(128.67 1242.60) scale(1 1.03)" text-anchor="middle">2</text>
<text transform="translate(164.46 1242.60) scale(1 1.03)" text-anchor="middle">2.5</text>
<text transform="translate(200.26 1242.60) scale(1 1.03)" text-anchor="middle">3</text>
<text transform="translate(236.06 1242.60) scale(1 1.03)" text-anchor="middle">3.5</text>
<text transform="translate(271.85 1242.60) scale(1 1.03)" text-anchor="middle">4</text>
<text transform="translate(307.64 1242.60) scale(1 1.03)" text-anchor="middle">4.5</text>
<text transform="translate(343.44 1242.60) scale(1 1.03)" text-anchor="middle">5</text>
<text transform="translate(117.77 1214.70) scale(1 1.03)" text-anchor="end">0.5</text>
<text transform="translate(117.77 1085.30) scale(1 1.03)" text-anchor="end">0.55</text>
<text transform="translate(117.77 955.90) scale(1 1.03)" text-anchor="end">0.6</text>
</g>
<path d="M164.96 1202.80L200.76 944.00L236.56 944.00L272.35 1202.80L308.14 1202.80L343.94 1202.80" fill="none" stroke="#0072BD" stroke-width="2.2" stroke-linejoin="round" stroke-linecap="butt"/>
<path d="M121.87 1202.80H136.47M129.17 1195.50V1210.10M123.77 1197.40L134.57 1208.20M123.77 1208.20L134.57 1197.40" stroke="#0072BD" stroke-width="2.1" fill="none"/>
<path d="M157.66 1202.80H172.26M164.96 1195.50V1210.10M159.56 1197.40L170.36 1208.20M159.56 1208.20L170.36 1197.40" stroke="#0072BD" stroke-width="2.1" fill="none"/>
<path d="M193.46 944.00H208.06M200.76 936.70V951.30M195.36 938.60L206.16 949.40M195.36 949.40L206.16 938.60" stroke="#0072BD" stroke-width="2.1" fill="none"/>
<path d="M229.25 944.00H243.86M236.56 936.70V951.30M231.16 938.60L241.96 949.40M231.16 949.40L241.96 938.60" stroke="#0072BD" stroke-width="2.1" fill="none"/>
<path d="M265.05 1202.80H279.65M272.35 1195.50V1210.10M266.95 1197.40L277.75 1208.20M266.95 1208.20L277.75 1197.40" stroke="#0072BD" stroke-width="2.1" fill="none"/>
<path d="M300.84 1202.80H315.44M308.14 1195.50V1210.10M302.75 1197.40L313.54 1208.20M302.75 1208.20L313.54 1197.40" stroke="#0072BD" stroke-width="2.1" fill="none"/>
<path d="M336.64 1202.80H351.24M343.94 1195.50V1210.10M338.54 1197.40L349.34 1208.20M338.54 1208.20L349.34 1197.40" stroke="#0072BD" stroke-width="2.1" fill="none"/>
<circle cx="129.17" cy="1202.80" r="7.2" stroke="#D95319" stroke-width="2.3" fill="none"/>
<circle cx="164.96" cy="1202.80" r="7.2" stroke="#D95319" stroke-width="2.3" fill="none"/>
<circle cx="200.76" cy="1202.80" r="7.2" stroke="#D95319" stroke-width="2.3" fill="none"/>
<circle cx="236.56" cy="1202.80" r="7.2" stroke="#D95319" stroke-width="2.3" fill="none"/>
<circle cx="272.35" cy="1202.80" r="7.2" stroke="#D95319" stroke-width="2.3" fill="none"/>
<circle cx="308.14" cy="944.00" r="7.2" stroke="#D95319" stroke-width="2.3" fill="none"/>
<circle cx="343.94" cy="1202.80" r="7.2" stroke="#D95319" stroke-width="2.3" fill="none"/>
<path d="M129.17 1202.80L164.96 1202.80L200.76 1202.80L236.56 1202.80L272.35 1202.80L308.14 944.00L343.94 1202.80" fill="none" stroke="#EDB120" stroke-width="2.2" stroke-linejoin="round" stroke-linecap="butt"/>
<path d="M121.97 1202.80H136.37M129.17 1195.60V1210.00" stroke="#EDB120" stroke-width="2.5" fill="none"/>
<path d="M157.76 1202.80H172.16M164.96 1195.60V1210.00" stroke="#EDB120" stroke-width="2.5" fill="none"/>
<path d="M193.56 1202.80H207.96M200.76 1195.60V1210.00" stroke="#EDB120" stroke-width="2.5" fill="none"/>
<path d="M229.36 1202.80H243.75M236.56 1195.60V1210.00" stroke="#EDB120" stroke-width="2.5" fill="none"/>
<path d="M265.15 1202.80H279.55M272.35 1195.60V1210.00" stroke="#EDB120" stroke-width="2.5" fill="none"/>
<path d="M300.94 944.00H315.34M308.14 936.80V951.20" stroke="#EDB120" stroke-width="2.5" fill="none"/>
<path d="M336.74 1202.80H351.14M343.94 1195.60V1210.00" stroke="#EDB120" stroke-width="2.5" fill="none"/>
</g>
<g>
<path d="M458.15 946.50V1202.80M493.87 946.50V1202.80M529.59 946.50V1202.80M565.30 946.50V1202.80M601.02 946.50V1202.80M422.43 1138.72H636.74M422.43 1074.65H636.74M422.43 1010.58H636.74" stroke="#dbdbdb" stroke-width="1.15" fill="none"/>
<rect x="422.43" y="946.50" width="214.31" height="256.30" fill="none" stroke="#262626" stroke-width="1.15"/>
<path d="M458.15 1202.80v-2.56M458.15 946.50v2.56M493.87 1202.80v-2.56M493.87 946.50v2.56M529.59 1202.80v-2.56M529.59 946.50v2.56M565.30 1202.80v-2.56M565.30 946.50v2.56M601.02 1202.80v-2.56M601.02 946.50v2.56M422.43 1138.72h2.56M636.74 1138.72h-2.56M422.43 1074.65h2.56M636.74 1074.65h-2.56M422.43 1010.58h2.56M636.74 1010.58h-2.56" stroke="#262626" stroke-width="1.15" fill="none"/>
<g font-size="28.8" fill="#262626">
<text transform="translate(421.93 1242.60) scale(1 1.03)" text-anchor="middle">2</text>
<text transform="translate(457.65 1242.60) scale(1 1.03)" text-anchor="middle">2.5</text>
<text transform="translate(493.37 1242.60) scale(1 1.03)" text-anchor="middle">3</text>
<text transform="translate(529.09 1242.60) scale(1 1.03)" text-anchor="middle">3.5</text>
<text transform="translate(564.80 1242.60) scale(1 1.03)" text-anchor="middle">4</text>
<text transform="translate(600.52 1242.60) scale(1 1.03)" text-anchor="middle">4.5</text>
<text transform="translate(636.24 1242.60) scale(1 1.03)" text-anchor="middle">5</text>
<text transform="translate(411.03 1214.90) scale(1 1.03)" text-anchor="end">0.4</text>
<text transform="translate(411.03 1150.82) scale(1 1.03)" text-anchor="end">0.6</text>
<text transform="translate(411.03 1086.75) scale(1 1.03)" text-anchor="end">0.8</text>
<text transform="translate(411.03 1022.68) scale(1 1.03)" text-anchor="end">1</text>
<text transform="translate(411.03 958.60) scale(1 1.03)" text-anchor="end">1.2</text>
</g>
<path d="M529.59 1170.76L565.30 978.54L601.02 1106.69L636.74 1010.58" fill="none" stroke="#0072BD" stroke-width="2.2" stroke-linejoin="round" stroke-linecap="butt"/>
<path d="M415.13 1170.76H429.73M422.43 1163.46V1178.06M417.03 1165.36L427.83 1176.16M417.03 1176.16L427.83 1165.36" stroke="#0072BD" stroke-width="2.1" fill="none"/>
<path d="M450.85 1170.76H465.45M458.15 1163.46V1178.06M452.75 1165.36L463.55 1176.16M452.75 1176.16L463.55 1165.36" stroke="#0072BD" stroke-width="2.1" fill="none"/>
<path d="M486.57 1138.72H501.17M493.87 1131.42V1146.02M488.47 1133.32L499.27 1144.12M488.47 1144.12L499.27 1133.32" stroke="#0072BD" stroke-width="2.1" fill="none"/>
<path d="M522.29 1170.76H536.88M529.59 1163.46V1178.06M524.19 1165.36L534.99 1176.16M524.19 1176.16L534.99 1165.36" stroke="#0072BD" stroke-width="2.1" fill="none"/>
<path d="M558.00 978.54H572.60M565.30 971.24V985.84M559.90 973.14L570.70 983.94M559.90 983.94L570.70 973.14" stroke="#0072BD" stroke-width="2.1" fill="none"/>
<path d="M593.72 1106.69H608.32M601.02 1099.39V1113.99M595.62 1101.29L606.42 1112.09M595.62 1112.09L606.42 1101.29" stroke="#0072BD" stroke-width="2.1" fill="none"/>
<path d="M629.44 1010.58H644.04M636.74 1003.28V1017.88M631.34 1005.18L642.14 1015.98M631.34 1015.98L642.14 1005.18" stroke="#0072BD" stroke-width="2.1" fill="none"/>
<path d="M458.15 1170.76L493.87 1138.72L529.59 1170.76L565.30 1170.76L601.02 1138.72L636.74 1138.72" fill="none" stroke="#D95319" stroke-width="2.2" stroke-linejoin="round" stroke-linecap="butt"/>
<circle cx="422.43" cy="1170.76" r="7.2" stroke="#D95319" stroke-width="2.3" fill="none"/>
<circle cx="458.15" cy="1170.76" r="7.2" stroke="#D95319" stroke-width="2.3" fill="none"/>
<circle cx="493.87" cy="1138.72" r="7.2" stroke="#D95319" stroke-width="2.3" fill="none"/>
<circle cx="529.59" cy="1170.76" r="7.2" stroke="#D95319" stroke-width="2.3" fill="none"/>
<circle cx="565.30" cy="1170.76" r="7.2" stroke="#D95319" stroke-width="2.3" fill="none"/>
<circle cx="601.02" cy="1138.72" r="7.2" stroke="#D95319" stroke-width="2.3" fill="none"/>
<circle cx="636.74" cy="1138.72" r="7.2" stroke="#D95319" stroke-width="2.3" fill="none"/>
<path d="M422.43 1170.76L458.15 1170.76L493.87 1170.76L529.59 1170.76L565.30 1138.72L601.02 1170.76L636.74 1170.76" fill="none" stroke="#EDB120" stroke-width="2.2" stroke-linejoin="round" stroke-linecap="butt"/>
<path d="M415.23 1170.76H429.63M422.43 1163.56V1177.96" stroke="#EDB120" stroke-width="2.5" fill="none"/>
<path d="M450.95 1170.76H465.35M458.15 1163.56V1177.96" stroke="#EDB120" stroke-width="2.5" fill="none"/>
<path d="M486.67 1170.76H501.07M493.87 1163.56V1177.96" stroke="#EDB120" stroke-width="2.5" fill="none"/>
<path d="M522.38 1170.76H536.79M529.59 1163.56V1177.96" stroke="#EDB120" stroke-width="2.5" fill="none"/>
<path d="M558.10 1138.72H572.50M565.30 1131.52V1145.92" stroke="#EDB120" stroke-width="2.5" fill="none"/>
<path d="M593.82 1170.76H608.22M601.02 1163.56V1177.96" stroke="#EDB120" stroke-width="2.5" fill="none"/>
<path d="M629.54 1170.76H643.94M636.74 1163.56V1177.96" stroke="#EDB120" stroke-width="2.5" fill="none"/>
</g>
<g>
<path d="M753.54 948.96V1202.80M790.73 948.96V1202.80M827.92 948.96V1202.80M865.12 948.96V1202.80M902.31 948.96V1202.80M716.35 1118.19H939.50M716.35 1033.57H939.50" stroke="#dbdbdb" stroke-width="1.15" fill="none"/>
<rect x="716.35" y="948.96" width="223.15" height="253.84" fill="none" stroke="#262626" stroke-width="1.15"/>
<path d="M753.54 1202.80v-2.54M753.54 948.96v2.54M790.73 1202.80v-2.54M790.73 948.96v2.54M827.92 1202.80v-2.54M827.92 948.96v2.54M865.12 1202.80v-2.54M865.12 948.96v2.54M902.31 1202.80v-2.54M902.31 948.96v2.54M716.35 1118.19h2.54M939.50 1118.19h-2.54M716.35 1033.57h2.54M939.50 1033.57h-2.54" stroke="#262626" stroke-width="1.15" fill="none"/>
<g font-size="28.8" fill="#262626">
<text transform="translate(715.85 1242.60) scale(1 1.03)" text-anchor="middle">2</text>
<text transform="translate(753.04 1242.60) scale(1 1.03)" text-anchor="middle">2.5</text>
<text transform="translate(790.23 1242.60) scale(1 1.03)" text-anchor="middle">3</text>
<text transform="translate(827.42 1242.60) scale(1 1.03)" text-anchor="middle">3.5</text>
<text transform="translate(864.62 1242.60) scale(1 1.03)" text-anchor="middle">4</text>
<text transform="translate(901.81 1242.60) scale(1 1.03)" text-anchor="middle">4.5</text>
<text transform="translate(939.00 1242.60) scale(1 1.03)" text-anchor="middle">5</text>
<text transform="translate(704.95 1214.20) scale(1 1.03)" text-anchor="end">0.5</text>
<text transform="translate(704.95 1129.59) scale(1 1.03)" text-anchor="end">0.6</text>
<text transform="translate(704.95 1044.97) scale(1 1.03)" text-anchor="end">0.7</text>
<text transform="translate(704.95 960.36) scale(1 1.03)" text-anchor="end">0.8</text>
</g>
<path d="M790.73 1202.80L827.92 1033.57L865.12 1202.80L902.31 1118.19L939.50 948.96" fill="none" stroke="#0072BD" stroke-width="2.2" stroke-linejoin="round" stroke-linecap="butt"/>
<path d="M709.05 1202.80H723.65M716.35 1195.50V1210.10M710.95 1197.40L721.75 1208.20M710.95 1208.20L721.75 1197.40" stroke="#0072BD" stroke-width="2.1" fill="none"/>
<path d="M746.24 1202.80H760.84M753.54 1195.50V1210.10M748.14 1197.40L758.94 1208.20M748.14 1208.20L758.94 1197.40" stroke="#0072BD" stroke-width="2.1" fill="none"/>
<path d="M783.43 1202.80H798.03M790.73 1195.50V1210.10M785.33 1197.40L796.13 1208.20M785.33 1208.20L796.13 1197.40" stroke="#0072BD" stroke-width="2.1" fill="none"/>
<path d="M820.62 1033.57H835.22M827.92 1026.27V1040.87M822.52 1028.17L833.32 1038.97M822.52 1038.97L833.32 1028.17" stroke="#0072BD" stroke-width="2.1" fill="none"/>
<path d="M857.82 1202.80H872.42M865.12 1195.50V1210.10M859.72 1197.40L870.52 1208.20M859.72 1208.20L870.52 1197.40" stroke="#0072BD" stroke-width="2.1" fill="none"/>
<path d="M895.01 1118.19H909.61M902.31 1110.89V1125.49M896.91 1112.79L907.71 1123.59M896.91 1123.59L907.71 1112.79" stroke="#0072BD" stroke-width="2.1" fill="none"/>
<path d="M932.20 948.96H946.80M939.50 941.66V956.26M934.10 943.56L944.90 954.36M934.10 954.36L944.90 943.56" stroke="#0072BD" stroke-width="2.1" fill="none"/>
<circle cx="716.35" cy="1202.80" r="7.2" stroke="#D95319" stroke-width="2.3" fill="none"/>
<circle cx="753.54" cy="1202.80" r="7.2" stroke="#D95319" stroke-width="2.3" fill="none"/>
<circle cx="790.73" cy="1202.80" r="7.2" stroke="#D95319" stroke-width="2.3" fill="none"/>
<circle cx="827.92" cy="1202.80" r="7.2" stroke="#D95319" stroke-width="2.3" fill="none"/>
<circle cx="865.12" cy="1202.80" r="7.2" stroke="#D95319" stroke-width="2.3" fill="none"/>
<circle cx="902.31" cy="1202.80" r="7.2" stroke="#D95319" stroke-width="2.3" fill="none"/>
<circle cx="939.50" cy="1202.80" r="7.2" stroke="#D95319" stroke-width="2.3" fill="none"/>
<path d="M716.35 1202.80L753.54 1202.80L790.73 1202.80L827.92 1202.80L865.12 1202.80L902.31 1202.80L939.50 1202.80" fill="none" stroke="#EDB120" stroke-width="2.2" stroke-linejoin="round" stroke-linecap="butt"/>
<path d="M709.15 1202.80H723.55M716.35 1195.60V1210.00" stroke="#EDB120" stroke-width="2.5" fill="none"/>
<path d="M746.34 1202.80H760.74M753.54 1195.60V1210.00" stroke="#EDB120" stroke-width="2.5" fill="none"/>
<path d="M783.53 1202.80H797.93M790.73 1195.60V1210.00" stroke="#EDB120" stroke-width="2.5" fill="none"/>
<path d="M820.72 1202.80H835.12M827.92 1195.60V1210.00" stroke="#EDB120" stroke-width="2.5" fill="none"/>
<path d="M857.92 1202.80H872.32M865.12 1195.60V1210.00" stroke="#EDB120" stroke-width="2.5" fill="none"/>
<path d="M895.11 1202.80H909.51M902.31 1195.60V1210.00" stroke="#EDB120" stroke-width="2.5" fill="none"/>
<path d="M932.30 1202.80H946.70M939.50 1195.60V1210.00" stroke="#EDB120" stroke-width="2.5" fill="none"/>
</g>
<g>
<rect x="129.17" y="58.4" width="164.0" height="108.6" fill="#fff" stroke="#262626" stroke-width="1.15"/>
<path d="M136.8 79.0H209.2" stroke="#0072BD" stroke-width="2.2"/>
<path d="M165.50 79.00H180.10M172.80 71.70V86.30M167.40 73.60L178.20 84.40M167.40 84.40L178.20 73.60" stroke="#0072BD" stroke-width="2.1" fill="none"/>
<text transform="translate(0 82.8) scale(1 1.03)" font-size="19.5" fill="#1a1a1a"><tspan x="215.4" y="-0.58" font-family="'Liberation Serif','DejaVu Serif',serif" font-style="italic" font-size="18.5" fill="#555">&#981;</tspan><tspan x="225.8" y="8.93" font-size="15">k</tspan><tspan x="238.9" y="0">= 30°</tspan></text>
<path d="M136.8 113.0H209.2" stroke="#D95319" stroke-width="2.2"/>
<circle cx="172.80" cy="113.00" r="7.2" stroke="#D95319" stroke-width="2.3" fill="none"/>
<text transform="translate(0 116.8) scale(1 1.03)" font-size="19.5" fill="#1a1a1a"><tspan x="215.4" y="-0.58" font-family="'Liberation Serif','DejaVu Serif',serif" font-style="italic" font-size="18.5" fill="#555">&#981;</tspan><tspan x="225.8" y="8.93" font-size="15">k</tspan><tspan x="238.9" y="0">= 35°</tspan></text>
<path d="M136.8 147.1H209.2" stroke="#EDB120" stroke-width="2.2"/>
<path d="M165.60 147.10H180.00M172.80 139.90V154.30" stroke="#EDB120" stroke-width="2.5" fill="none"/>
<text transform="translate(0 150.9) scale(1 1.03)" font-size="19.5" fill="#1a1a1a"><tspan x="215.4" y="-0.58" font-family="'Liberation Serif','DejaVu Serif',serif" font-style="italic" font-size="18.5" fill="#555">&#981;</tspan><tspan x="225.8" y="8.93" font-size="15">k</tspan><tspan x="238.9" y="0">= 40°</tspan></text>
</g>
<text transform="translate(238.9 37.6) scale(1 1.03)" font-size="29.0" fill="#000" text-anchor="middle">q<tspan font-size="23" dy="13.79">Qk</tspan><tspan dy="-13.79"> = 0 kPa</tspan></text>
<text transform="translate(529.5 38.5) scale(1 1.03)" font-size="29.0" fill="#000" text-anchor="middle">q<tspan font-size="23" dy="13.79">Qk</tspan><tspan dy="-13.79"> = 2 kPa</tspan></text>
<text transform="translate(827.7 38.5) scale(1 1.03)" font-size="29.0" fill="#000" text-anchor="middle">q<tspan font-size="23" dy="13.79">Qk</tspan><tspan dy="-13.79"> = 4 kPa</tspan></text>
<text transform="translate(236.3 1280.2) scale(1 1.03)" font-size="29.0" fill="#262626" text-anchor="middle">Height H<tspan font-size="23" dy="14.56">s</tspan><tspan dy="-14.56"> (m)</tspan></text>
<text transform="translate(529.6 1280.2) scale(1 1.03)" font-size="29.0" fill="#262626" text-anchor="middle">Height H<tspan font-size="23" dy="14.56">s</tspan><tspan dy="-14.56"> (m)</tspan></text>
<text transform="translate(827.8 1280.2) scale(1 1.03)" font-size="29.0" fill="#262626" text-anchor="middle">Height H<tspan font-size="23" dy="14.56">s</tspan><tspan dy="-14.56"> (m)</tspan></text>
<text transform="translate(50.9,292.0) rotate(-90) scale(1 1.03)" font-size="29" fill="#262626" text-anchor="middle">Optimal width b<tspan font-size="23" dy="13.98">f</tspan><tspan dy="-13.98"> (m)</tspan></text>
<text transform="translate(48.5,728.4) rotate(-90) scale(1 1.03)" font-size="28.8" fill="#262626" text-anchor="middle">Optimal depth d (m)</text>
<text transform="translate(47.8,1074.8) rotate(-90) scale(1 1.03)" font-size="29.3" fill="#262626" text-anchor="middle">Optimal top width b (m)</text>
</g>
</svg>
</body></html>
